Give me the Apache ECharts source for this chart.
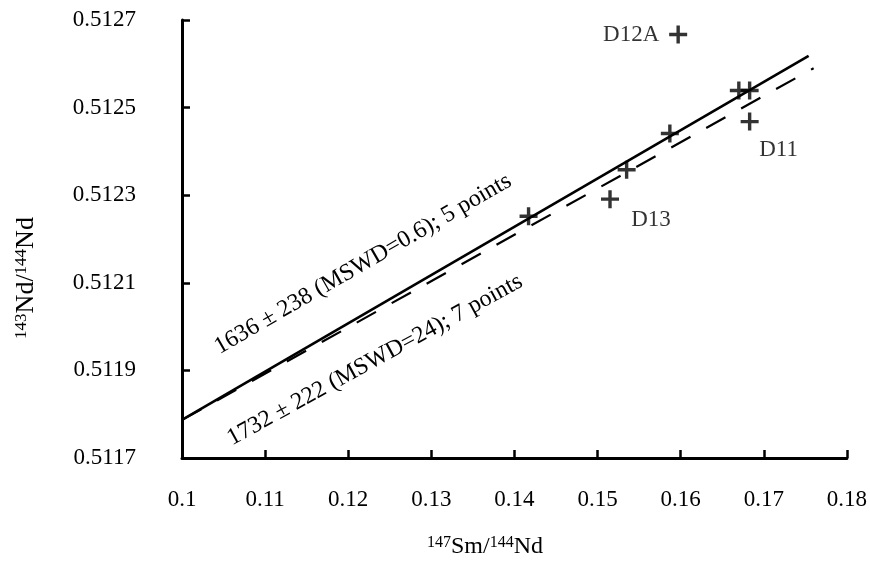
<!DOCTYPE html>
<html>
<head>
<meta charset="utf-8">
<script src="https://cdn.jsdelivr.net/npm/echarts@6/dist/echarts.min.js"></script>
<style>html,body{margin:0;padding:0;background:#fff}#c{width:870px;height:569px}</style>
</head>
<body>
<div id="c"></div>
<script>
// Data (147Sm/144Nd, 143Nd/144Nd)
var pointsX = [0.1417, 0.1535, 0.1587, 0.1670, 0.1683];
var pointsY = [0.512252, 0.512358, 0.512441, 0.512539, 0.512539];
var outlierNames = ['D12A', 'D13', 'D11'];
var outlierX = [0.1597, 0.1515, 0.1683];
var outlierY = [0.512667, 0.512291, 0.512468];
var isoSolidX = [0.1, 0.1754];
var isoSolidY = [0.511787, 0.512618];
var isoDashX = [0.1, 0.1760];
var isoDashY = [0.511787, 0.512590];
var xTicks = {min: 0.1, max: 0.18, step: 0.01};
var yTicks = {min: 0.5117, max: 0.5127, step: 0.0002};
var label5 = '1636 \u00b1 238 (MSWD=0.6); 5 points';
var label7 = '1732 \u00b1 222 (MSWD=24); 7 points';

var FONT = '"Liberation Serif", "DejaVu Serif", serif';
var INK = '#000';
var plus = 'path://M7.3,0 H10.7 V7.3 H18 V10.7 H10.7 V18 H7.3 V10.7 H0 V7.3 H7.3 Z';
var labelOffsets = {'D12A': [-47, 0], 'D13': [41, 21], 'D11': [29, 28]};

var chart = echarts.init(document.getElementById('c'), null, {renderer: 'canvas'});

function zip(xs, ys) { return xs.map(function (x, i) { return [x, ys[i]]; }); }

var outlierData = outlierNames.map(function (n, i) {
  return {
    name: n, value: [outlierX[i], outlierY[i]],
    label: {show: true, formatter: n, position: 'inside', offset: labelOffsets[n],
      color: INK, fontFamily: FONT, fontSize: 23}
  };
});

chart.setOption({
  backgroundColor: '#fff',
  animation: false,
  grid: {left: 182, right: 20, top: 20, bottom: 111},
  xAxis: {
    type: 'value', min: xTicks.min, max: xTicks.max, interval: xTicks.step,
    axisLine: {lineStyle: {color: INK, width: 3}},
    axisTick: {inside: true, length: 8, lineStyle: {color: INK, width: 2.5}},
    axisLabel: {margin: 30, color: INK, fontFamily: FONT, fontSize: 23,
      formatter: function (v) { return String(+v.toFixed(2)); }},
    splitLine: {show: false}
  },
  yAxis: {
    type: 'value', min: yTicks.min, max: yTicks.max, interval: yTicks.step,
    axisLine: {lineStyle: {color: INK, width: 3}},
    axisTick: {inside: true, length: 8, lineStyle: {color: INK, width: 2.5}},
    axisLabel: {margin: 46, color: INK, fontFamily: FONT, fontSize: 23,
      formatter: function (v) { return v.toFixed(4); }},
    splitLine: {show: false}
  },
  series: [
    {type: 'line', data: zip(isoSolidX, isoSolidY), symbol: 'none',
      lineStyle: {color: INK, width: 2.6}, z: 3},
    {type: 'line', data: zip(isoDashX, isoDashY), symbol: 'none',
      lineStyle: {color: INK, width: 2.2, type: [22, 18]}, z: 2},
    {type: 'scatter', data: zip(pointsX, pointsY), symbol: plus, symbolSize: 18,
      itemStyle: {color: INK}, z: 4},
    {type: 'scatter', data: outlierData, symbol: plus, symbolSize: 18,
      itemStyle: {color: INK}, z: 4}
  ],
  graphic: [
    {type: 'text', x: 363, y: 264, rotation: 30 * Math.PI / 180,
      style: {text: label5, fill: INK, font: '24px ' + FONT, align: 'center', verticalAlign: 'middle'}},
    {type: 'text', x: 375, y: 360, rotation: 28.7 * Math.PI / 180,
      style: {text: label7, fill: INK, font: '24px ' + FONT, align: 'center', verticalAlign: 'middle'}},
    {type: 'text', x: 485, y: 547,
      style: {text: '{s|147}{m|Sm/}{s|144}{m|Nd}', align: 'center', verticalAlign: 'middle',
        rich: {
          s: {fontFamily: FONT, fontSize: 16, lineHeight: 16, verticalAlign: 'top', fill: INK},
          m: {fontFamily: FONT, fontSize: 24, lineHeight: 24, verticalAlign: 'bottom', padding: [10, 0, 0, 0], fill: INK}
        }}},
    {type: 'text', x: 26, y: 278, rotation: Math.PI / 2,
      style: {text: '{s|143}{m|Nd/}{s|144}{m|Nd}', align: 'center', verticalAlign: 'middle',
        rich: {
          s: {fontFamily: FONT, fontSize: 17, lineHeight: 17, verticalAlign: 'top', fill: INK},
          m: {fontFamily: FONT, fontSize: 26, lineHeight: 26, verticalAlign: 'bottom', padding: [10, 0, 0, 0], fill: INK}
        }}}
  ]
});
</script>
</body>
</html>
